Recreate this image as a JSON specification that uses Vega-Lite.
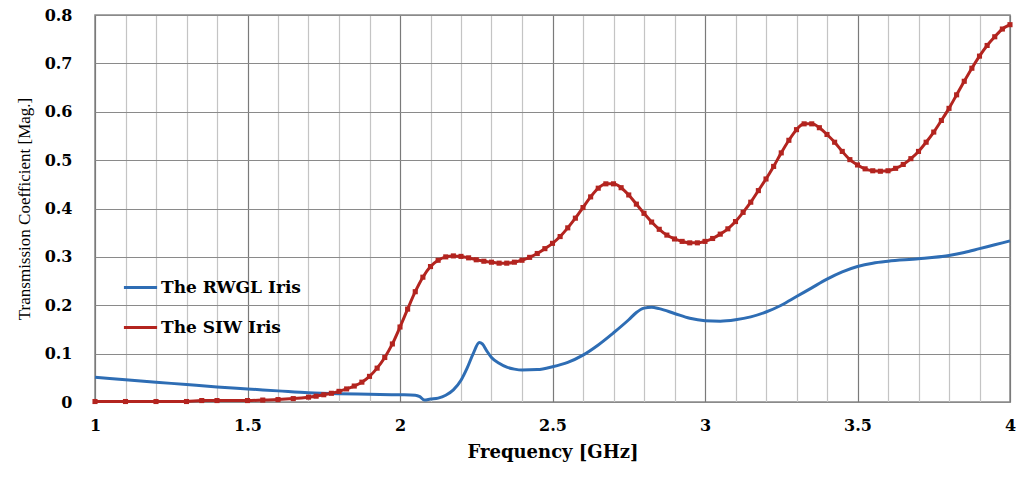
{
  "$schema": "https://vega.github.io/schema/vega-lite/v6.json",
  "width": 915,
  "height": 387,
  "autosize": {"type": "none"},
  "padding": {"left": 95, "top": 15, "right": 12, "bottom": 89},
  "background": "white",
  "config": {
    "view": {"stroke": "#8a8a8a", "strokeWidth": 1.5},
    "axis": {"labelColor": "black", "titleColor": "black"}
  },
  "datasets": {
    "siw": [
      {"f": 1.0, "v": 0.001}, {"f": 1.1, "v": 0.001}, {"f": 1.2, "v": 0.001}, {"f": 1.3, "v": 0.001},
      {"f": 1.35, "v": 0.003}, {"f": 1.4, "v": 0.003}, {"f": 1.5, "v": 0.003}, {"f": 1.55, "v": 0.004},
      {"f": 1.6, "v": 0.005}, {"f": 1.65, "v": 0.007}, {"f": 1.7, "v": 0.010}, {"f": 1.725, "v": 0.012},
      {"f": 1.75, "v": 0.015}, {"f": 1.775, "v": 0.018}, {"f": 1.8, "v": 0.022}, {"f": 1.825, "v": 0.027},
      {"f": 1.85, "v": 0.033}, {"f": 1.875, "v": 0.041}, {"f": 1.9, "v": 0.053}, {"f": 1.925, "v": 0.07},
      {"f": 1.95, "v": 0.092}, {"f": 1.975, "v": 0.12}, {"f": 2.0, "v": 0.155}, {"f": 2.025, "v": 0.192},
      {"f": 2.05, "v": 0.228}, {"f": 2.075, "v": 0.258}, {"f": 2.1, "v": 0.28}, {"f": 2.125, "v": 0.293},
      {"f": 2.15, "v": 0.3}, {"f": 2.175, "v": 0.302}, {"f": 2.2, "v": 0.301}, {"f": 2.225, "v": 0.298},
      {"f": 2.25, "v": 0.294}, {"f": 2.275, "v": 0.291}, {"f": 2.3, "v": 0.289}, {"f": 2.325, "v": 0.287},
      {"f": 2.35, "v": 0.287}, {"f": 2.375, "v": 0.289}, {"f": 2.4, "v": 0.293}, {"f": 2.425, "v": 0.299},
      {"f": 2.45, "v": 0.307}, {"f": 2.475, "v": 0.317}, {"f": 2.5, "v": 0.328}, {"f": 2.525, "v": 0.342},
      {"f": 2.55, "v": 0.36}, {"f": 2.575, "v": 0.38}, {"f": 2.6, "v": 0.402}, {"f": 2.625, "v": 0.424},
      {"f": 2.65, "v": 0.442}, {"f": 2.675, "v": 0.451}, {"f": 2.7, "v": 0.451}, {"f": 2.725, "v": 0.443},
      {"f": 2.75, "v": 0.428}, {"f": 2.775, "v": 0.409}, {"f": 2.8, "v": 0.39}, {"f": 2.825, "v": 0.372},
      {"f": 2.85, "v": 0.357}, {"f": 2.875, "v": 0.345}, {"f": 2.9, "v": 0.337}, {"f": 2.925, "v": 0.332},
      {"f": 2.95, "v": 0.329}, {"f": 2.975, "v": 0.329}, {"f": 3.0, "v": 0.332}, {"f": 3.025, "v": 0.338},
      {"f": 3.05, "v": 0.347}, {"f": 3.075, "v": 0.358}, {"f": 3.1, "v": 0.373}, {"f": 3.125, "v": 0.392},
      {"f": 3.15, "v": 0.413}, {"f": 3.175, "v": 0.437}, {"f": 3.2, "v": 0.461}, {"f": 3.225, "v": 0.487},
      {"f": 3.25, "v": 0.515}, {"f": 3.275, "v": 0.541}, {"f": 3.3, "v": 0.563}, {"f": 3.325, "v": 0.575},
      {"f": 3.35, "v": 0.575}, {"f": 3.375, "v": 0.567}, {"f": 3.4, "v": 0.553}, {"f": 3.425, "v": 0.537},
      {"f": 3.45, "v": 0.518}, {"f": 3.475, "v": 0.501}, {"f": 3.5, "v": 0.49}, {"f": 3.525, "v": 0.482},
      {"f": 3.55, "v": 0.478}, {"f": 3.575, "v": 0.477}, {"f": 3.6, "v": 0.478}, {"f": 3.625, "v": 0.483},
      {"f": 3.65, "v": 0.491}, {"f": 3.675, "v": 0.503}, {"f": 3.7, "v": 0.518}, {"f": 3.725, "v": 0.537},
      {"f": 3.75, "v": 0.558}, {"f": 3.775, "v": 0.582}, {"f": 3.8, "v": 0.607}, {"f": 3.825, "v": 0.635},
      {"f": 3.85, "v": 0.663}, {"f": 3.875, "v": 0.69}, {"f": 3.9, "v": 0.715}, {"f": 3.925, "v": 0.737},
      {"f": 3.95, "v": 0.755}, {"f": 3.975, "v": 0.771}, {"f": 4.0, "v": 0.78}
    ],
    "rwgl": [
      {"f": 1.0, "v": 0.051}, {"f": 1.1, "v": 0.046}, {"f": 1.2, "v": 0.041}, {"f": 1.3, "v": 0.036},
      {"f": 1.4, "v": 0.031}, {"f": 1.5, "v": 0.027}, {"f": 1.6, "v": 0.023}, {"f": 1.7, "v": 0.019},
      {"f": 1.8, "v": 0.017}, {"f": 1.9, "v": 0.016}, {"f": 2.0, "v": 0.015}, {"f": 2.05, "v": 0.014},
      {"f": 2.065, "v": 0.011}, {"f": 2.08, "v": 0.004}, {"f": 2.1, "v": 0.006}, {"f": 2.125, "v": 0.008},
      {"f": 2.15, "v": 0.014}, {"f": 2.175, "v": 0.025}, {"f": 2.2, "v": 0.045}, {"f": 2.22, "v": 0.07},
      {"f": 2.24, "v": 0.1}, {"f": 2.26, "v": 0.123}, {"f": 2.27, "v": 0.12}, {"f": 2.285, "v": 0.105},
      {"f": 2.3, "v": 0.092}, {"f": 2.325, "v": 0.08}, {"f": 2.35, "v": 0.072}, {"f": 2.375, "v": 0.068},
      {"f": 2.4, "v": 0.066}, {"f": 2.45, "v": 0.067}, {"f": 2.5, "v": 0.073}, {"f": 2.55, "v": 0.082},
      {"f": 2.6, "v": 0.097}, {"f": 2.65, "v": 0.118}, {"f": 2.7, "v": 0.143}, {"f": 2.75, "v": 0.17},
      {"f": 2.775, "v": 0.185}, {"f": 2.8, "v": 0.194}, {"f": 2.825, "v": 0.196}, {"f": 2.85, "v": 0.193},
      {"f": 2.9, "v": 0.183}, {"f": 2.95, "v": 0.173}, {"f": 3.0, "v": 0.168}, {"f": 3.05, "v": 0.167},
      {"f": 3.1, "v": 0.17}, {"f": 3.15, "v": 0.176}, {"f": 3.2, "v": 0.186}, {"f": 3.25, "v": 0.2},
      {"f": 3.3, "v": 0.218}, {"f": 3.35, "v": 0.236}, {"f": 3.4, "v": 0.254}, {"f": 3.45, "v": 0.269},
      {"f": 3.5, "v": 0.28}, {"f": 3.55, "v": 0.287}, {"f": 3.6, "v": 0.291}, {"f": 3.7, "v": 0.296},
      {"f": 3.8, "v": 0.303}, {"f": 3.85, "v": 0.309}, {"f": 3.9, "v": 0.317}, {"f": 3.95, "v": 0.325},
      {"f": 4.0, "v": 0.333}
    ]
  },
  "encoding": {
    "x": {
      "field": "f", "type": "quantitative",
      "scale": {"domain": [1, 4], "nice": false, "zero": false},
      "axis": {
        "values": [1, 1.1, 1.2, 1.3, 1.4, 1.5, 1.6, 1.7, 1.8, 1.9, 2, 2.1, 2.2, 2.3, 2.4, 2.5, 2.6, 2.7, 2.8, 2.9, 3, 3.1, 3.2, 3.3, 3.4, 3.5, 3.6, 3.7, 3.8, 3.9, 4],
        "labelExpr": "round(datum.value*10) % 5 == 0 ? format(datum.value, '') : ''",
        "grid": true,
        "gridColor": {"condition": {"test": "round(datum.value*10) % 5 == 0", "value": "#7a7a7a"}, "value": "#c4c4c4"},
        "gridWidth": 1.2,
        "ticks": false,
        "domain": false,
        "labelFont": "DejaVu Serif", "labelFontWeight": "bold", "labelFontSize": 16,
        "labelPadding": 15, "labelFlush": false,
        "title": "Frequency [GHz]",
        "titleFont": "DejaVu Serif", "titleFontWeight": "bold", "titleFontSize": 18,
        "titlePadding": 10
      }
    },
    "y": {
      "field": "v", "type": "quantitative",
      "scale": {"domain": [0, 0.8], "nice": false},
      "axis": {
        "values": [0, 0.1, 0.2, 0.3, 0.4, 0.5, 0.6, 0.7, 0.8],
        "format": "~g",
        "grid": true, "gridColor": "#8a8a8a", "gridWidth": 1.2,
        "ticks": false, "domain": false,
        "labelFont": "DejaVu Serif", "labelFontWeight": "bold", "labelFontSize": 16,
        "labelPadding": 23, "labelFlush": false,
        "title": "Transmission Coefficient [Mag.]",
        "titleFont": "Liberation Serif", "titleFontWeight": "normal", "titleFontSize": 17,
        "titlePadding": 11
      }
    }
  },
  "layer": [
    {
      "data": {"name": "rwgl"},
      "transform": [{"calculate": "'The RWGL Iris'", "as": "series"}],
      "mark": {"type": "line", "strokeWidth": 3, "interpolate": "monotone"},
      "encoding": {
        "color": {
          "field": "series", "type": "nominal",
          "scale": {"domain": ["The RWGL Iris", "The SIW Iris"], "range": ["#2e6db4", "#b3241f"]},
          "legend": {
            "orient": "none", "legendX": 27, "legendY": 254, "title": null,
            "symbolType": "stroke", "symbolSize": 1100, "symbolStrokeWidth": 3,
            "labelFont": "DejaVu Serif", "labelFontWeight": "bold", "labelFontSize": 17,
            "labelColor": "black", "labelOffset": 2, "rowPadding": 13
          }
        }
      }
    },
    {
      "data": {"name": "siw"},
      "transform": [{"calculate": "'The SIW Iris'", "as": "series"}],
      "mark": {"type": "line", "strokeWidth": 3, "interpolate": "monotone"},
      "encoding": {
        "color": {"field": "series", "type": "nominal"}
      }
    },
    {
      "data": {"name": "siw"},
      "mark": {"type": "point", "shape": "square", "filled": true, "size": 26, "color": "#b3241f", "opacity": 1}
    }
  ]
}
